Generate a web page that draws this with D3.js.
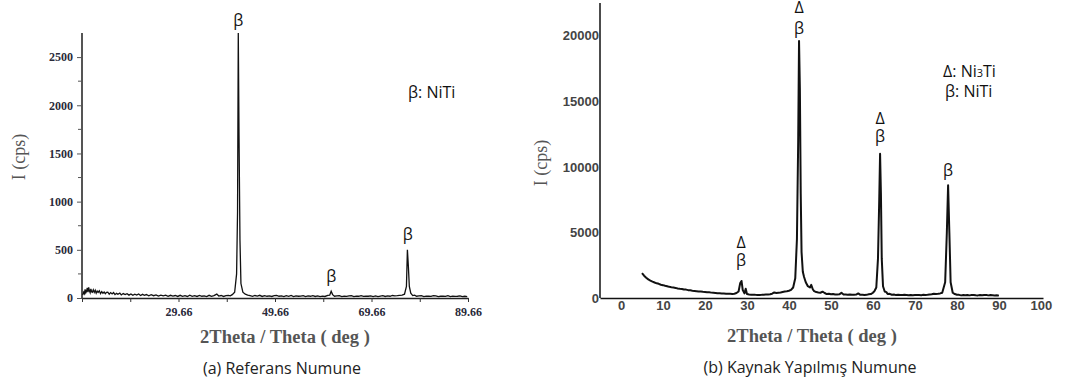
<!DOCTYPE html>
<html><head><meta charset="utf-8">
<script src="https://cdn.jsdelivr.net/npm/d3@7"></script>
<style>
body{margin:0;background:#fff;}
svg{display:block;}
</style></head>
<body><svg id="c" width="1086" height="387"></svg>
<script>
// ---------- Panel (a) data: Referans Numune  [2theta, I(cps)] ----------
const aSeries = [[9.8,30],[10.0,60],[10.15,45],[10.3,90],[10.45,55],[10.6,70],[10.75,105],[10.9,60],[11.05,110],[11.2,75],[11.35,55],[11.5,95],[11.65,65],[11.8,60],[12.0,85],[12.2,58],[12.4,80],[12.6,50],[12.8,72],[13.0,58],[13.25,75],[13.5,45],[13.75,66],[14.0,50],[14.25,62],[14.5,45],[14.75,58],[15.0,60],[15.3,40],[15.6,56],[15.9,42],[16.2,56],[16.5,35],[16.8,48],[17.1,38],[17.5,50],[17.8,32],[18.2,46],[18.6,35],[19.0,45],[19.4,30],[19.8,42],[20.2,28],[20.6,40],[21.0,30],[21.4,42],[21.8,26],[22.2,38],[22.6,28],[23.0,36],[23.5,22],[24.0,34],[24.5,24],[25.0,32],[25.5,20],[26.0,30],[26.5,22],[27.0,30],[27.5,18],[28.0,28],[28.5,20],[29.0,26],[29.5,16],[30.0,28],[30.5,18],[31.0,24],[31.5,16],[32.0,30],[32.5,18],[33.0,24],[33.5,16],[34.0,26],[34.5,18],[35.0,22],[35.5,15],[36.0,28],[36.5,18],[37.0,24],[37.6,40],[38.0,20],[38.5,26],[39.0,16],[39.5,24],[40.0,28],[40.4,22],[40.8,35],[41.3,60],[41.7,250],[41.9,900],[42.05,2750],[42.2,1700],[42.4,600],[42.6,150],[43.0,60],[43.5,40],[44.0,30],[44.5,24],[45.0,18],[45.5,26],[46.0,20],[46.5,28],[47.0,16],[47.5,24],[48.0,18],[48.5,22],[49.0,16],[49.5,24],[50.0,28],[50.5,18],[51.0,22],[51.5,14],[52.0,24],[52.5,18],[53.0,26],[53.5,15],[54.0,22],[54.5,18],[55.0,20],[55.5,24],[56.0,14],[56.5,22],[57.0,18],[57.5,24],[58.0,16],[58.5,22],[59.0,14],[59.5,20],[60.0,16],[60.6,28],[61.0,30],[61.3,70],[61.6,35],[62.0,18],[62.5,22],[63.0,24],[63.5,14],[64.0,20],[64.5,16],[65.0,22],[65.5,24],[66.0,15],[66.5,20],[67.0,18],[67.5,24],[68.0,16],[68.5,20],[69.0,18],[69.5,22],[70.0,15],[70.5,22],[71.0,14],[71.5,20],[72.0,24],[72.5,16],[73.0,22],[73.5,18],[74.0,26],[74.5,22],[75.0,24],[75.5,28],[76.0,30],[76.5,40],[76.9,120],[77.1,500],[77.3,330],[77.5,120],[77.8,50],[78.2,25],[78.6,30],[79.0,18],[79.5,22],[80.0,24],[80.5,14],[81.0,20],[81.5,18],[82.0,16],[82.5,24],[83.0,22],[83.5,14],[84.0,18],[84.5,20],[85.0,16],[85.5,24],[86.0,14],[86.5,20],[87.0,16],[87.5,18],[88.0,22],[88.5,14],[89.0,18],[89.5,15]];

// ---------- Panel (b) data: Kaynak Yapilmis Numune  [2theta, I(cps)] ----------
const bSeries = [[5.0,1900],[5.5,1700],[6.0,1550],[6.5,1420],[7.0,1330],[7.5,1250],[8.0,1180],[8.5,1120],[9.0,1080],[9.5,1010],[10.0,980],[10.5,930],[11.0,900],[11.5,850],[12.0,820],[12.5,800],[13.0,770],[13.5,730],[14.0,700],[14.5,690],[15.0,650],[15.5,640],[16.0,600],[16.5,590],[17.0,560],[17.5,540],[18.0,520],[18.5,500],[19.0,490],[19.5,470],[20.0,460],[20.5,440],[21.0,430],[21.5,410],[22.0,400],[22.5,390],[23.0,370],[23.5,365],[24.0,350],[24.5,345],[25.0,330],[25.5,320],[26.0,315],[26.5,310],[27.0,330],[27.5,380],[28.0,500],[28.4,1150],[28.7,1300],[29.0,600],[29.4,350],[29.7,700],[30.0,300],[30.5,270],[31.0,250],[31.5,255],[32.0,240],[32.5,230],[33.0,235],[33.5,240],[34.0,250],[34.5,260],[35.0,260],[35.5,290],[36.0,330],[36.5,420],[37.0,380],[37.5,400],[38.0,420],[38.5,460],[39.0,500],[39.5,520],[40.0,550],[40.5,620],[41.0,800],[41.5,1500],[41.9,4500],[42.2,12000],[42.4,19600],[42.6,16000],[42.8,8000],[43.0,3500],[43.3,2000],[43.6,1600],[44.0,1200],[44.5,900],[45.0,800],[45.3,1000],[45.7,650],[46.0,520],[46.5,450],[47.0,420],[47.5,400],[48.0,480],[48.5,380],[49.0,300],[49.5,320],[50.0,280],[50.5,300],[51.0,260],[51.5,270],[52.0,280],[52.5,400],[53.0,270],[53.5,260],[54.0,250],[54.5,270],[55.0,240],[55.5,250],[56.0,260],[56.5,350],[57.0,240],[57.5,250],[58.0,230],[58.5,240],[59.0,280],[59.5,300],[60.0,400],[60.4,550],[60.8,800],[61.2,3000],[61.5,7500],[61.7,11000],[61.9,8000],[62.1,3000],[62.4,900],[62.8,500],[63.2,450],[63.5,300],[64.0,320],[64.5,250],[65.0,260],[65.5,220],[66.0,240],[66.5,220],[67.0,230],[67.5,240],[68.0,230],[68.5,210],[69.0,230],[69.5,210],[70.0,220],[70.5,230],[71.0,220],[71.5,210],[72.0,240],[72.5,230],[73.0,240],[73.5,260],[74.0,280],[74.5,320],[75.0,300],[75.5,320],[76.0,350],[76.5,400],[77.2,1200],[77.6,5000],[77.9,8600],[78.2,5000],[78.5,1200],[79.0,400],[79.5,300],[80.0,250],[80.5,240],[81.0,200],[81.5,220],[82.0,210],[82.5,230],[83.0,200],[83.5,220],[84.0,230],[84.5,210],[85.0,200],[85.5,220],[86.0,210],[86.5,230],[87.0,220],[87.5,200],[88.0,220],[88.5,210],[89.0,200],[89.5,210],[90.0,180]];

// ---------- axis ticks ----------
const aYTicks = [0,500,1000,1500,2000,2500];
const aYMinor = [250,750,1250,1750,2250];
const aXTicks = [9.66,19.66,29.66,39.66,49.66,59.66,69.66,79.66,89.66];
const aXLabels = [29.66,49.66,69.66,89.66];
const bYTicks = [0,5000,10000,15000,20000];
const bXTicks = [0,10,20,30,40,50,60,70,80,90,100];

const svg = d3.select("#c");
const serif = "'Liberation Serif','DejaVu Serif',serif";
const sans = "'Open Sans','Noto Sans',sans-serif";
const arial = "'Liberation Sans',Arial,sans-serif";

// ================= Panel A =================
const ax = d3.scaleLinear([9.66, 89.66], [82, 468]);
const ay = d3.scaleLinear([0, 2750], [298, 33]);
const gA = svg.append("g");

gA.append("g").selectAll("line").data(aYMinor).join("line")
  .attr("x1", 78).attr("x2", 82).attr("y1", d=>ay(d)).attr("y2", d=>ay(d))
  .attr("stroke", "#555").attr("stroke-width", 1);

const aYAxis = gA.append("g").attr("transform","translate(82,0)")
  .call(d3.axisLeft(ay).tickValues(aYTicks).tickSize(5).tickPadding(4).tickSizeOuter(0).tickFormat(d3.format("d")));
aYAxis.select(".domain").attr("stroke","#555").attr("stroke-width",2).attr("d","M0,33V298");
aYAxis.selectAll(".tick line").attr("stroke","#555");
aYAxis.selectAll("text").attr("font-family",serif).attr("font-size",12).attr("font-weight","bold").attr("fill","#2a2a3a");

const aXAxis = gA.append("g").attr("transform","translate(0,298)")
  .call(d3.axisBottom(ax).tickValues(aXTicks).tickSize(4).tickPadding(5).tickSizeOuter(0)
    .tickFormat(d => aXLabels.includes(d) ? d.toFixed(2) : ""));
aXAxis.select(".domain").attr("stroke","#222").attr("stroke-width",1.5);
aXAxis.selectAll(".tick line").attr("stroke","#333");
aXAxis.selectAll("text").attr("font-family",serif).attr("font-size",12).attr("font-weight","bold").attr("fill","#2a2a3a");

gA.append("path").datum(aSeries)
  .attr("d", d3.line().x(d=>ax(d[0])).y(d=>ay(d[1])))
  .attr("fill","none").attr("stroke","#111").attr("stroke-width",1.3);

gA.append("text").attr("x",285).attr("y",343).attr("text-anchor","middle")
  .attr("font-family",serif).attr("font-size",18.5).attr("font-weight","bold").attr("fill","#555")
  .text("2Theta / Theta ( deg )");
gA.append("text").attr("transform","translate(25,157) rotate(-90)").attr("text-anchor","middle")
  .attr("font-family",serif).attr("font-size",18).attr("fill","#555").text("I (cps)");
gA.append("text").attr("x",282).attr("y",374).attr("text-anchor","middle")
  .attr("font-family",sans).attr("font-size",16).attr("fill","#222").text("(a) Referans Numune");

const annA = [
  {x:42.05, y:26, t:"β"},
  {x:61.3, y:282, t:"β"},
  {x:77.2, y:240, t:"β"}
];
gA.selectAll("text.ann").data(annA).join("text").attr("class","ann")
  .attr("x",d=>ax(d.x)).attr("y",d=>d.y).attr("text-anchor","middle")
  .attr("font-family",sans).attr("font-size",16).attr("fill","#111").text(d=>d.t);
gA.append("text").attr("x",408).attr("y",98).attr("font-family",sans).attr("font-size",16).attr("fill","#111").text("β: NiTi");

// ================= Panel B =================
const bx = d3.scaleLinear([-5, 100.5], [600, 1043]);
const by = d3.scaleLinear([0, 22500], [298, 3]);
const gB = svg.append("g");

const bYAxis = gB.append("g").attr("transform","translate(600,0)")
  .call(d3.axisLeft(by).tickValues(bYTicks).tickSize(0).tickPadding(1).tickSizeOuter(0).tickFormat(d3.format("d")));
bYAxis.select(".domain").attr("stroke","#111").attr("stroke-width",1.5).attr("d","M0,3V298");
bYAxis.selectAll("text").attr("font-family",arial).attr("font-size",13).attr("font-weight","bold").attr("fill","#444");

const bXAxis = gB.append("g").attr("transform","translate(0,298)")
  .call(d3.axisBottom(bx).tickValues(bXTicks).tickSize(0).tickPadding(3).tickSizeOuter(0));
bXAxis.select(".domain").attr("stroke","#111").attr("stroke-width",1.5);
bXAxis.selectAll("text").attr("font-family",arial).attr("font-size",13).attr("font-weight","bold").attr("fill","#444");

gB.append("path").datum(bSeries)
  .attr("d", d3.line().x(d=>bx(d[0])).y(d=>by(d[1])))
  .attr("fill","none").attr("stroke","#111").attr("stroke-width",2).attr("stroke-linejoin","round");

gB.append("text").attr("x",812).attr("y",342).attr("text-anchor","middle")
  .attr("font-family",serif).attr("font-size",18.5).attr("font-weight","bold").attr("fill","#555")
  .text("2Theta / Theta ( deg )");
gB.append("text").attr("transform","translate(547,163) rotate(-90)").attr("text-anchor","middle")
  .attr("font-family",serif).attr("font-size",18).attr("fill","#555").text("I (cps)");
gB.append("text").attr("x",810).attr("y",373).attr("text-anchor","middle")
  .attr("font-family",sans).attr("font-size",16).attr("fill","#222").text("(b) Kaynak Yapılmış Numune");

const annB = [
  {x:42.4, y:13, t:"Δ"}, {x:42.4, y:34, t:"β"},
  {x:61.7, y:124, t:"Δ"}, {x:61.7, y:142, t:"β"},
  {x:77.9, y:176, t:"β"},
  {x:28.6, y:248, t:"Δ"}, {x:28.6, y:266, t:"β"}
];
gB.selectAll("text.ann").data(annB).join("text").attr("class","ann")
  .attr("x",d=>bx(d.x)).attr("y",d=>d.y).attr("text-anchor","middle")
  .attr("font-family",sans).attr("font-size",16).attr("fill","#111").text(d=>d.t);
const leg1 = gB.append("text").attr("x",943).attr("y",77).attr("font-family",sans).attr("font-size",16).attr("fill","#111");
leg1.append("tspan").text("Δ: Ni");
leg1.append("tspan").attr("font-size",11).text("3");
leg1.append("tspan").text("Ti");
gB.append("text").attr("x",945).attr("y",97).attr("font-family",sans).attr("font-size",16).attr("fill","#111").text("β: NiTi");
</script></body></html>
